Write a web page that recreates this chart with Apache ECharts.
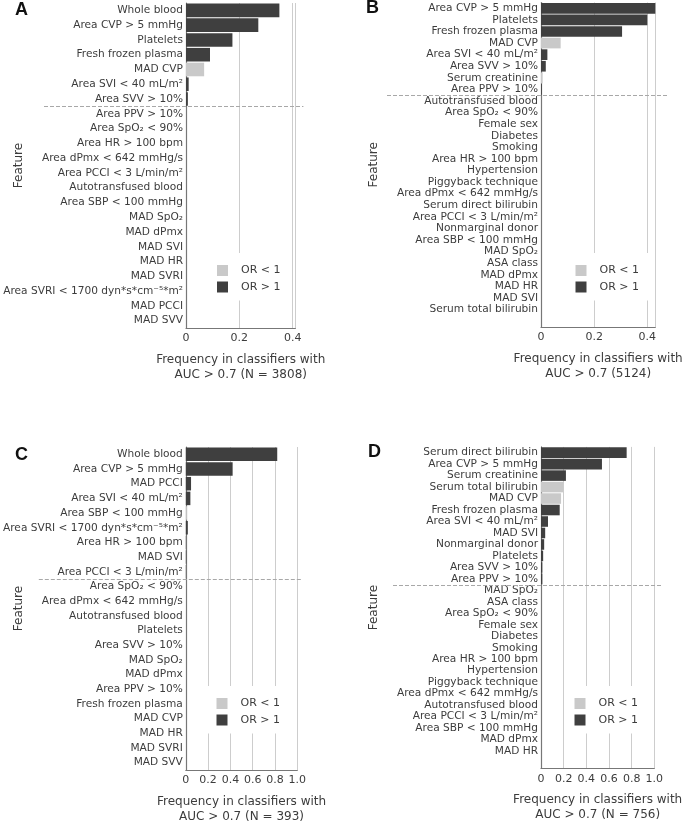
<!DOCTYPE html>
<html><head><meta charset="utf-8">
<script src="https://cdn.jsdelivr.net/npm/echarts@6/dist/echarts.min.js"></script>
<style>html,body{margin:0;padding:0;background:#fff}#c{width:685px;height:825px}</style>
</head><body><div id="c"></div>
<script>
// ---------- DATA ----------
const featuresA = ['Whole blood','Area CVP > 5 mmHg','Platelets','Fresh frozen plasma','MAD CVP','Area SVI < 40 mL/m²','Area SVV > 10%','Area PPV > 10%','Area SpO₂ < 90%','Area HR > 100 bpm','Area dPmx < 642 mmHg/s','Area PCCI < 3 L/min/m²','Autotransfused blood','Area SBP < 100 mmHg','MAD SpO₂','MAD dPmx','MAD SVI','MAD HR','MAD SVRI','Area SVRI < 1700 dyn*s*cm⁻⁵*m²','MAD PCCI','MAD SVV'];
const freqA = [0.35,0.271,0.174,0.09,0.068,0.01,0.007,0,0,0,0,0,0,0,0,0,0,0,0,0,0,0];
const lowOR_A = ['MAD CVP'];
const topCountA = 7;
const xTitleA = 'Frequency in classifiers with\nAUC > 0.7 (N = 3808)';

const featuresB = ['Area CVP > 5 mmHg','Platelets','Fresh frozen plasma','MAD CVP','Area SVI < 40 mL/m²','Area SVV > 10%','Serum creatinine','Area PPV > 10%','Autotransfused blood','Area SpO₂ < 90%','Female sex','Diabetes','Smoking','Area HR > 100 bpm','Hypertension','Piggyback technique','Area dPmx < 642 mmHg/s','Serum direct bilirubin','Area PCCI < 3 L/min/m²','Nonmarginal donor','Area SBP < 100 mmHg','MAD SpO₂','ASA class','MAD dPmx','MAD HR','MAD SVI','Serum total bilirubin'];
const freqB = [0.433,0.40,0.305,0.074,0.024,0.018,0.006,0.003,0,0,0,0,0,0,0,0,0,0,0,0,0,0,0,0,0,0,0];
const lowOR_B = ['MAD CVP','Serum creatinine'];
const topCountB = 8;
const xTitleB = 'Frequency in classifiers with\nAUC > 0.7 (5124)';

const featuresC = ['Whole blood','Area CVP > 5 mmHg','MAD PCCI','Area SVI < 40 mL/m²','Area SBP < 100 mmHg','Area SVRI < 1700 dyn*s*cm⁻⁵*m²','Area HR > 100 bpm','MAD SVI','Area PCCI < 3 L/min/m²','Area SpO₂ < 90%','Area dPmx < 642 mmHg/s','Autotransfused blood','Platelets','Area SVV > 10%','MAD SpO₂','MAD dPmx','Area PPV > 10%','Fresh frozen plasma','MAD CVP','MAD HR','MAD SVRI','MAD SVV'];
const freqC = [0.82,0.42,0.047,0.041,0.01,0.018,0.002,0.004,0.002,0,0,0,0,0,0,0,0,0,0,0,0,0];
const lowOR_C = ['Area SBP < 100 mmHg'];
const topCountC = 9;
const xTitleC = 'Frequency in classifiers with\nAUC > 0.7 (N = 393)';

const featuresD = ['Serum direct bilirubin','Area CVP > 5 mmHg','Serum creatinine','Serum total bilirubin','MAD CVP','Fresh frozen plasma','Area SVI < 40 mL/m²','MAD SVI','Nonmarginal donor','Platelets','Area SVV > 10%','Area PPV > 10%','MAD SpO₂','ASA class','Area SpO₂ < 90%','Female sex','Diabetes','Smoking','Area HR > 100 bpm','Hypertension','Piggyback technique','Area dPmx < 642 mmHg/s','Autotransfused blood','Area PCCI < 3 L/min/m²','Area SBP < 100 mmHg','MAD dPmx','MAD HR'];
const freqD = [0.756,0.538,0.22,0.197,0.177,0.165,0.062,0.037,0.028,0.019,0.012,0.012,0,0,0,0,0,0,0,0,0,0,0,0,0,0,0];
const lowOR_D = ['Serum total bilirubin','MAD CVP'];
const topCountD = 12;
const xTitleD = 'Frequency in classifiers with\nAUC > 0.7 (N = 756)';

const xMaxes = [0.41, 0.43, 1.0, 1.0];
const xStep = 0.2;
const legendNames = ['OR < 1','OR > 1'];

// ---------- LAYOUT ----------
const layout = [
  {letter:'A', grid:{left:186, top:3, width:109.4, height:325}, legend:{left:207, top:253}, title:{left:15, top:1}, pad:false, dashL:142, dashR:8},
  {letter:'B', grid:{left:541, top:2.5, width:114.3, height:324.5}, legend:{left:565.5, top:253}, title:{left:366, top:-1}, pad:true, dashL:154, dashR:13},
  {letter:'C', grid:{left:183.3, top:447, width:114, height:323.5}, legend:{left:206.5, top:686}, title:{left:15, top:446}, pad:false, dashL:147, dashR:5},
  {letter:'D', grid:{left:541, top:446.9, width:113.3, height:321.4}, legend:{left:564.5, top:686}, title:{left:368, top:443}, pad:true, dashL:148, dashR:7}
];
const panels = [
  {features:featuresA, freq:freqA, low:lowOR_A, top:topCountA, xTitle:xTitleA},
  {features:featuresB, freq:freqB, low:lowOR_B, top:topCountB, xTitle:xTitleB},
  {features:featuresC, freq:freqC, low:lowOR_C, top:topCountC, xTitle:xTitleC},
  {features:featuresD, freq:freqD, low:lowOR_D, top:topCountD, xTitle:xTitleD}
];

const FONT = 'DejaVu Sans';
const TXT = '#3c3c3c';
const DARK = '#3f3f3f', LIGHT = '#c9c9c9';

const chart = echarts.init(document.getElementById('c'), null, {renderer:'canvas'});
const option = {
  backgroundColor:'#fff', animation:false,
  textStyle:{fontFamily:FONT},
  title:[], grid:[], xAxis:[], yAxis:[], legend:[], series:[]
};
panels.forEach((p, i) => {
  const L = layout[i];
  const cats = L.pad ? p.features.concat(['']) : p.features;
  option.title.push({text:L.letter, left:L.title.left, top:L.title.top, padding:0,
    textStyle:{fontFamily:'Liberation Sans', fontSize:18, fontWeight:'bold', color:'#111'}});
  option.grid.push(Object.assign({containLabel:false}, L.grid));
  option.xAxis.push({type:'value', gridIndex:i, min:0, max:xMaxes[i], interval:xStep,
    axisLine:{show:true, lineStyle:{color:'#777', width:1.2}}, axisTick:{show:false},
    splitLine:{show:true, lineStyle:{color:'#cdcdcd', width:1}},
    axisLabel:{fontSize:11, color:TXT, margin:5, fontFamily:FONT, showMaxLabel:xMaxes[i] === 1.0,
      formatter: v => (Math.abs(v / xStep - Math.round(v / xStep)) > 1e-6) ? '' : (v === 0 ? '0' : v.toFixed(1))},
    name:p.xTitle, nameLocation:'middle', nameGap:24,
    nameTextStyle:{fontSize:12, color:TXT, lineHeight:15, fontFamily:FONT}});
  option.yAxis.push({type:'category', gridIndex:i, inverse:true, data:cats,
    axisLine:{show:true, lineStyle:{color:'#777', width:1.2}}, axisTick:{show:false},
    splitLine:{show:false},
    axisLabel:{fontSize:10.6, color:TXT, margin:3, interval:0, fontFamily:FONT},
    name:'Feature', nameLocation:'middle', nameGap:161, nameRotate:90, nameMoveOverlap:false,
    nameTextStyle:{fontSize:12, color:TXT, fontFamily:FONT}});
  option.legend.push({data:legendNames.map(n => ({name:n, icon:'rect'})), orient:'vertical',
    left:L.legend.left, top:L.legend.top, itemWidth:11, itemHeight:11, itemGap:5.5,
    padding:[12,10,8,10], backgroundColor:'#fff', selectedMode:false,
    textStyle:{fontSize:11, color:TXT, fontFamily:FONT, padding:[0,0,0,8]}});
  option.series.push({name:'OR < 1', type:'bar', xAxisIndex:i, yAxisIndex:i,
    barGap:'-100%', barCategoryGap:'8%', itemStyle:{color:LIGHT},
    data:p.features.map((f, k) => p.low.includes(f) ? p.freq[k] : '-')});
  option.series.push({name:'OR > 1', type:'bar', xAxisIndex:i, yAxisIndex:i,
    barGap:'-100%', barCategoryGap:'8%', itemStyle:{color:DARK},
    data:p.features.map((f, k) => p.low.includes(f) ? '-' : p.freq[k])});
});
chart.setOption(option);

// dashed separator between top features and the rest
const graphics = panels.map((p, i) => {
  const L = layout[i];
  const y0 = chart.convertToPixel({yAxisIndex:i}, p.features[p.top - 1]);
  const y1 = chart.convertToPixel({yAxisIndex:i}, p.features[p.top]);
  const xL = chart.convertToPixel({xAxisIndex:i}, 0);
  const xR = chart.convertToPixel({xAxisIndex:i}, xMaxes[i]);
  const y = Math.round((y0 + y1) / 2) + 0.5;
  return {type:'line', z:50, silent:true,
    shape:{x1:xL - L.dashL, y1:y, x2:xR + L.dashR, y2:y},
    style:{stroke:'#a8a8a8', lineWidth:1.2, lineDash:[4,2]}};
});
chart.setOption({graphic:graphics});
</script></body></html>
